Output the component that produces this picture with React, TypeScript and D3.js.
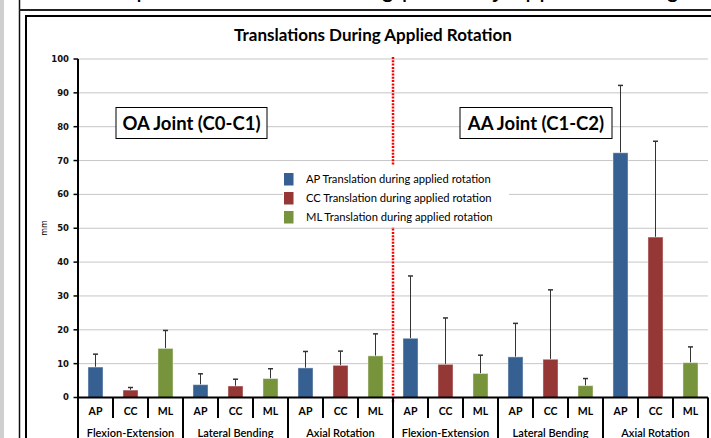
import React from "react";
import * as d3 from "d3";

const groups = ["Flexion-Extension", "Lateral Bending", "Axial Rotation", "Flexion-Extension", "Lateral Bending", "Axial Rotation"];
const components = ["AP", "CC", "ML"];
const apMean = [9.0, 3.8, 8.75, 17.5, 12.0, 72.3];
const ccMean = [2.2, 3.4, 9.5, 9.8, 11.3, 47.4];
const mlMean = [14.5, 5.6, 12.3, 7.1, 3.5, 10.3];
const apSD = [3.8, 3.2, 4.85, 18.4, 9.9, 19.9];
const ccSD = [0.75, 2.0, 4.2, 13.7, 20.5, 28.3];
const mlSD = [5.3, 2.9, 6.5, 5.4, 2.1, 4.65];
const yTicks = [0, 10, 20, 30, 40, 50, 60, 70, 80, 90, 100];
const legendLabels = [
  "AP Translation during applied rotation",
  "CC Translation during applied rotation",
  "ML Translation during applied rotation",
];
const colors = ["#376092", "#953735", "#77933C"];
const title = "Translations During Applied Rotation";
const jointLabels = ["OA Joint (C0-C1)", "AA Joint (C1-C2)"];

const W = 711;
const H = 438;
const FONT = "Lato, 'Open Sans', sans-serif";

export default function App() {
  const x0 = 78, x1 = 708;
  const gx = d3.scaleBand<number>().domain(d3.range(groups.length)).range([x0, x1]).padding(0);
  const sx = d3.scaleBand<string>().domain(components).range([0, gx.bandwidth()]).padding(0);
  const y = d3.scaleLinear().domain([0, 100]).range([397.5, 59]);
  const means = [apMean, ccMean, mlMean];
  const sds = [apSD, ccSD, mlSD];
  const barW = sx.bandwidth() * 0.43;
  const divider = gx(3)!;

  return (
    <svg width={W} height={H} style={{ position: "absolute", left: 0, top: 0, background: "#fff" }} fontFamily={FONT}>
      {/* slide frame */}
      <rect x={0} y={0} width={4} height={H} fill="#cfcfcf" />
      <text x={385} y={-3} fontSize={25} textAnchor="middle" fill="#000" fontFamily="'Liberation Sans', sans-serif">
        Coupled translations during passively applied loading
      </text>
      <line x1={19.5} y1={0} x2={19.5} y2={H} stroke="#111" strokeWidth={1.5} />
      <line x1={19} y1={10} x2={W} y2={10} stroke="#222" strokeWidth={2} />
      <line x1={26} y1={16} x2={26} y2={H} stroke="#000" strokeWidth={2} />
      <line x1={25} y1={16} x2={W} y2={16} stroke="#000" strokeWidth={2} />

      {/* title */}
      <text x={373} y={41} fontSize={17} fontWeight="bold" textAnchor="middle" fill="#000">{title}</text>

      {/* gridlines */}
      {yTicks.filter((t) => t > 0).map((t) => (
        <line key={t} x1={x0} x2={x1} y1={y(t)} y2={y(t)} stroke="#c6c6c6" strokeWidth={1} />
      ))}

      {/* divider dotted */}
      <line x1={divider} x2={divider} y1={57} y2={403} stroke="#ff0000" strokeWidth={2.5} strokeDasharray="2,1.3" />

      {/* legend background */}
      <rect x={283} y={165} width={226} height={62} fill="#fff" />
      {legendLabels.map((l, i) => (
        <g key={l}>
          <rect x={284} y={173 + i * 19} width={9.5} height={12.5} fill={colors[i]} />
          <text x={306} y={179.5 + i * 19} dy="0.35em" fontSize={11.2} fill="#000">{l}</text>
        </g>
      ))}

      {/* joint boxes */}
      <rect x={116} y={107.5} width={151} height={31} fill="#fff" stroke="#000" strokeWidth={1} />
      <text x={191.5} y={123} dy="0.36em" fontSize={18.5} fontWeight="bold" textAnchor="middle">{jointLabels[0]}</text>
      <rect x={460} y={107.5} width={152} height={31} fill="#fff" stroke="#000" strokeWidth={1} />
      <text x={536} y={123} dy="0.36em" fontSize={18.5} fontWeight="bold" textAnchor="middle">{jointLabels[1]}</text>

      {/* bars and error bars */}
      {groups.map((g, gi) =>
        components.map((c, ci) => {
          const cx = gx(gi)! + sx(c)! + sx.bandwidth() / 2;
          const v = means[ci][gi];
          const top = v + sds[ci][gi];
          return (
            <g key={`${gi}-${c}`}>
              <line x1={cx} x2={cx} y1={y(v)} y2={y(top)} stroke="#333" strokeWidth={1} />
              <line x1={cx - 2.5} x2={cx + 2.5} y1={y(top)} y2={y(top)} stroke="#333" strokeWidth={1.5} />
              <rect x={cx - barW / 2} y={y(v)} width={barW} height={y(0) - y(v)} fill={colors[ci]} stroke="rgba(255,255,255,0.45)" strokeWidth={1} />
            </g>
          );
        })
      )}

      {/* y axis */}
      <line x1={x0} x2={x0} y1={y(100)} y2={H} stroke="#000" strokeWidth={2} />
      {yTicks.map((t) => (
        <g key={t}>
          <line x1={x0 - 4.5} x2={x0} y1={y(t)} y2={y(t)} stroke="#000" strokeWidth={1.5} />
          <text x={69} y={y(t)} dy="0.35em" fontSize={8.5} fontWeight="bold" textAnchor="end" fontFamily="'DejaVu Sans', sans-serif" fill="#111">{t}</text>
        </g>
      ))}
      <text transform={`translate(44.5,228) rotate(-90)`} fontSize={8} textAnchor="middle" dy="0.35em" fontFamily="'DejaVu Sans', sans-serif">mm</text>

      {/* x axis */}
      <line x1={x0} x2={x1} y1={y(0)} y2={y(0)} stroke="#000" strokeWidth={2} />
      {groups.map((g, gi) => (
        <g key={`xg-${gi}`}>
          <line x1={gx(gi)! + gx.bandwidth()} x2={gx(gi)! + gx.bandwidth()} y1={y(0)} y2={H} stroke="#000" strokeWidth={2} />
          {components.map((c, ci) => {
            const sx0 = gx(gi)! + sx(c)!;
            return (
              <g key={c}>
                {ci > 0 && <line x1={sx0} x2={sx0} y1={y(0)} y2={418} stroke="#000" strokeWidth={2} />}
                <text x={sx0 + sx.bandwidth() / 2} y={411.5} dy="0.36em" fontSize={10.5} fontWeight="bold" textAnchor="middle">{c}</text>
              </g>
            );
          })}
          <text x={gx(gi)! + gx.bandwidth() / 2} y={433} dy="0.36em" fontSize={11} fontWeight="600" textAnchor="middle">{g}</text>
        </g>
      ))}
    </svg>
  );
}
